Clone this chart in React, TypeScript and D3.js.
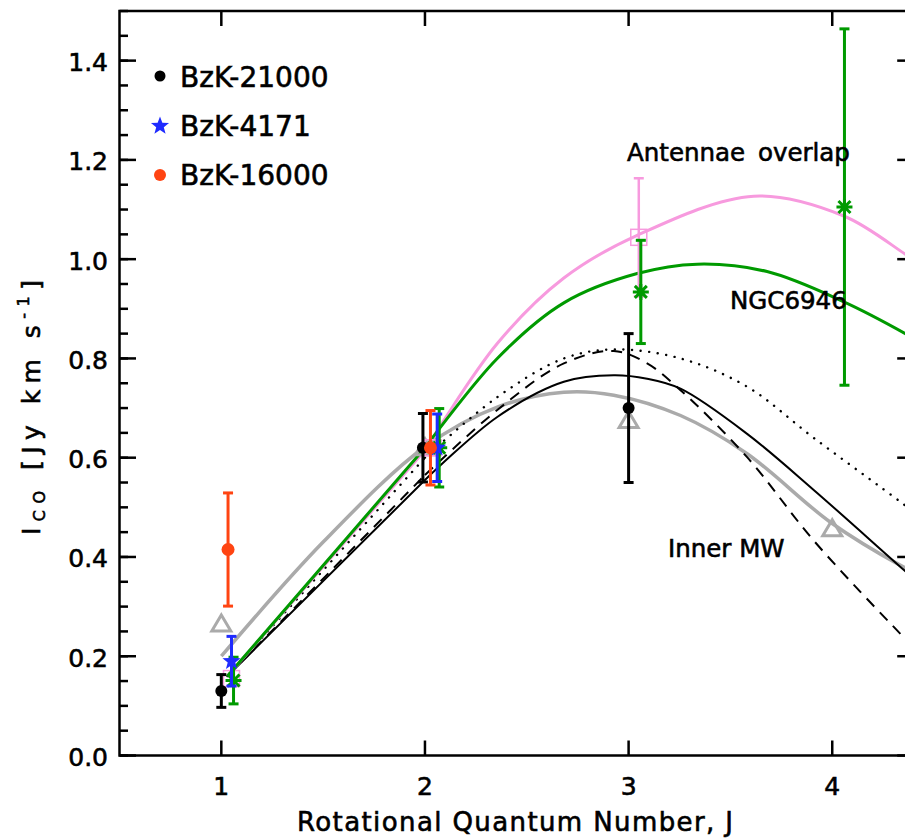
import React from 'react';
import * as d3 from 'd3';

// ---------- data ----------
const jTicks = [1, 2, 3, 4];
const yMajorTicks = [0, 0.2, 0.4, 0.6, 0.8, 1.0, 1.2, 1.4];
const yMinorTicks = d3.range(0, 1.5001, 0.05);

// observed points (J, I_CO, error)
const bzk21000J = [1.0, 1.99, 3.0];
const bzk21000I = [0.13, 0.62, 0.70];
const bzk21000E = [0.033, 0.069, 0.15];

const bzk4171J = [1.05, 2.06];
const bzk4171I = [0.19, 0.62];
const bzk4171E = [0.05, 0.068];

const bzk16000J = [1.033, 2.027];
const bzk16000I = [0.415, 0.62];
const bzk16000E = [0.114, 0.075];

const ngc6946J = [1.06, 2.07, 3.06, 4.06];
const ngc6946I = [0.151, 0.62, 0.934, 1.105];
const ngc6946E = [0.047, 0.079, 0.104, 0.359];

const antennaeJ = [1.05, 2.04, 3.05];
const antennaeI = [0.155, 0.62, 1.044];
const antennaeE = [0, 0, 0.119];

const innerMWJ = [1, 2, 3, 4];
const innerMWI = [0.265, 0.62, 0.675, 0.457];

// model curves
const pinkCurveJ = [1.03, 2.0, 2.355, 2.682, 3.042, 3.615, 4.057, 4.359, 4.4];
const pinkCurveI = [0.16, 0.615, 0.83, 0.962, 1.048, 1.127, 1.087, 1.01, 1.0];

const greenCurveJ = [1.03, 2.0, 2.355, 2.682, 3.042, 3.337, 3.68, 4.057, 4.359, 4.4];
const greenCurveI = [0.16, 0.62, 0.80, 0.912, 0.971, 0.99, 0.975, 0.914, 0.85, 0.84];

const dottedCurveJ = [1.03, 2.0, 2.355, 2.682, 2.927, 3.255, 3.582, 3.909, 4.335, 4.4];
const dottedCurveI = [0.16, 0.60, 0.722, 0.80, 0.818, 0.80, 0.743, 0.64, 0.511, 0.49];

const dashedCurveJ = [1.03, 2.0, 2.355, 2.682, 2.927, 3.091, 3.255, 3.582, 3.909, 4.335, 4.4];
const dashedCurveI = [0.16, 0.565, 0.696, 0.79, 0.815, 0.79, 0.736, 0.601, 0.433, 0.245, 0.218];

const solidCurveJ = [1.03, 2.0, 2.355, 2.682, 2.927, 3.091, 3.255, 3.582, 3.909, 4.335, 4.4];
const solidCurveI = [0.16, 0.555, 0.682, 0.753, 0.766, 0.759, 0.739, 0.648, 0.535, 0.38, 0.357];

const grayCurveJ = [1.0, 1.5, 2.0, 2.355, 2.682, 2.927, 3.255, 3.582, 3.991, 4.335, 4.4];
const grayCurveI = [0.2, 0.43, 0.622, 0.702, 0.732, 0.726, 0.685, 0.608, 0.47, 0.383, 0.37];

const legendNames = ['BzK-21000', 'BzK-4171', 'BzK-16000'];

// ---------- styles ----------
const C_BLACK = '#000000';
const C_BLUE = '#1f2bff';
const C_RED = '#ff4412';
const C_GREEN = '#009a00';
const C_PINK = '#f79ade';
const C_GRAY = '#aaaaaa';
const FONT = '"DejaVu Sans", sans-serif';

const x = d3.scaleLinear().domain([0.5, 4.4]).range([119.5, 913.7]);
const y = d3.scaleLinear().domain([0, 1.5]).range([755.5, 11]);

const smoothLine = d3
  .line<[number, number]>()
  .x((d) => x(d[0]))
  .y((d) => y(d[1]))
  .curve(d3.curveCatmullRom.alpha(0.5));

const straightLine = d3
  .line<[number, number]>()
  .x((d) => x(d[0]))
  .y((d) => y(d[1]));

const zip = (a: number[], b: number[]) => a.map((v, i) => [v, b[i]] as [number, number]);

// model curve: straight from the first sample up to J=2, smooth afterwards
function modelPath(js: number[], is: number[]) {
  const pts = zip(js, is);
  const left = pts.filter((p) => p[0] <= 2.0);
  const right = pts.filter((p) => p[0] >= 2.0);
  return (straightLine(left) || '') + (smoothLine(right) || '');
}

function starPath(R: number) {
  const r = R * 0.42;
  const pts: string[] = [];
  for (let i = 0; i < 10; i++) {
    const ang = -Math.PI / 2 + (i * Math.PI) / 5;
    const rr = i % 2 === 0 ? R : r;
    pts.push(`${(rr * Math.cos(ang)).toFixed(2)},${(rr * Math.sin(ang)).toFixed(2)}`);
  }
  return 'M' + pts.join('L') + 'Z';
}

function ErrBars({ js, is, es, color, width = 3 }: { js: number[]; is: number[]; es: number[]; color: string; width?: number }) {
  return (
    <g stroke={color} strokeWidth={width} fill="none">
      {js.map((j, k) =>
        es[k] > 0 ? (
          <g key={k}>
            <line x1={x(j)} x2={x(j)} y1={y(is[k] + es[k])} y2={y(is[k] - es[k])} />
            <line x1={x(j) - 5} x2={x(j) + 5} y1={y(is[k] + es[k])} y2={y(is[k] + es[k])} />
            <line x1={x(j) - 5} x2={x(j) + 5} y1={y(is[k] - es[k])} y2={y(is[k] - es[k])} />
          </g>
        ) : null
      )}
    </g>
  );
}

export default function App() {
  const star = starPath(9.5);
  const ast = 'M-8,0L8,0M0,-8L0,8M-6,-6L6,6M-6,6L6,-6';
  const tri = 'M0,-9L9.5,7L-9.5,7Z';
  const textStroke = { stroke: '#000', strokeWidth: 0.6 };
  return (
    <div style={{ position: 'absolute', left: 0, top: 0, width: 905, height: 839, overflow: 'hidden', background: '#fff' }}>
      <svg width={940} height={839} style={{ display: 'block' }} fontFamily={FONT}>
        <defs>
          <clipPath id="plotclip">
            <rect x={x(0.5)} y={y(1.5)} width={x(4.4) - x(0.5)} height={y(0) - y(1.5)} />
          </clipPath>
        </defs>

        {/* curves */}
        <g clipPath="url(#plotclip)" fill="none" strokeLinejoin="round">
          <path d={smoothLine(zip(grayCurveJ, grayCurveI)) || ''} stroke={C_GRAY} strokeWidth={3.5} />
          <path d={modelPath(solidCurveJ, solidCurveI)} stroke={C_BLACK} strokeWidth={2} />
          <path d={modelPath(dashedCurveJ, dashedCurveI)} stroke={C_BLACK} strokeWidth={2} strokeDasharray="11,8" />
          <path d={modelPath(dottedCurveJ, dottedCurveI)} stroke={C_BLACK} strokeWidth={2.4} strokeDasharray="0.1,8.5" strokeLinecap="round" />
          <path d={modelPath(pinkCurveJ, pinkCurveI)} stroke={C_PINK} strokeWidth={3} />
          <path d={modelPath(greenCurveJ, greenCurveI)} stroke={C_GREEN} strokeWidth={3} />
        </g>

        {/* Inner MW triangles */}
        <g fill="none" stroke={C_GRAY} strokeWidth={3}>
          {innerMWJ.map((j, k) => (
            <path key={k} d={tri} transform={`translate(${x(j)},${y(innerMWI[k])})`} />
          ))}
        </g>

        {/* Antennae */}
        <ErrBars js={antennaeJ} is={antennaeI} es={antennaeE} color={C_PINK} width={2.5} />
        <g fill="none" stroke={C_PINK} strokeWidth={1.5}>
          {antennaeJ.map((j, k) => (
            <rect key={k} x={x(j) - 8} y={y(antennaeI[k]) - 8} width={16} height={16} />
          ))}
        </g>

        {/* NGC6946 */}
        <ErrBars js={ngc6946J} is={ngc6946I} es={ngc6946E} color={C_GREEN} width={3} />
        <g fill="none" stroke={C_GREEN} strokeWidth={3}>
          {ngc6946J.map((j, k) => (
            <path key={k} d={ast} transform={`translate(${x(j)},${y(ngc6946I[k])})`} />
          ))}
        </g>

        {/* BzK-21000 */}
        <ErrBars js={bzk21000J} is={bzk21000I} es={bzk21000E} color={C_BLACK} width={3} />
        {bzk21000J.map((j, k) => (
          <circle key={k} cx={x(j)} cy={y(bzk21000I[k])} r={6} fill={C_BLACK} />
        ))}

        {/* BzK-4171 */}
        <ErrBars js={bzk4171J} is={bzk4171I} es={bzk4171E} color={C_BLUE} width={3} />
        {bzk4171J.map((j, k) => (
          <path key={k} d={star} transform={`translate(${x(j)},${y(bzk4171I[k])})`} fill={C_BLUE} />
        ))}

        {/* BzK-16000 */}
        <ErrBars js={bzk16000J} is={bzk16000I} es={bzk16000E} color={C_RED} width={3} />
        {bzk16000J.map((j, k) => (
          <circle key={k} cx={x(j)} cy={y(bzk16000I[k])} r={6.5} fill={C_RED} />
        ))}

        {/* axes frame */}
        <rect x={x(0.5)} y={y(1.5)} width={x(4.4) - x(0.5)} height={y(0) - y(1.5)} fill="none" stroke="#000" strokeWidth={2.5} />
        <g stroke="#000" strokeWidth={2.5}>
          {jTicks.map((j) => (
            <g key={j}>
              <line x1={x(j)} x2={x(j)} y1={y(0)} y2={y(0) - 15} />
              <line x1={x(j)} x2={x(j)} y1={y(1.5)} y2={y(1.5) + 15} />
            </g>
          ))}
          {yMinorTicks.map((v, k) => (
            <g key={k}>
              <line x1={x(0.5)} x2={x(0.5) + 8.5} y1={y(v)} y2={y(v)} />
              <line x1={x(4.4)} x2={x(4.4) - 8.5} y1={y(v)} y2={y(v)} />
            </g>
          ))}
          {yMajorTicks.map((v) => (
            <g key={v}>
              <line x1={x(0.5)} x2={x(0.5) + 16.5} y1={y(v)} y2={y(v)} />
              <line x1={x(4.4)} x2={x(4.4) - 16.5} y1={y(v)} y2={y(v)} />
            </g>
          ))}
        </g>

        {/* tick labels */}
        <g fontSize={25} fill="#000" {...textStroke}>
          {yMajorTicks.map((v) => (
            <text key={v} x={108} y={y(v) + 10.5} textAnchor="end">
              {v.toFixed(1)}
            </text>
          ))}
          {jTicks.map((j) => (
            <text key={j} x={x(j)} y={795} textAnchor="middle">
              {String(j)}
            </text>
          ))}
        </g>

        {/* axis titles */}
        <g fill="#000" {...textStroke}>
          <text x={515} y={831} fontSize={26} textAnchor="middle" textLength={436} lengthAdjust="spacing">
            Rotational Quantum Number, J
          </text>
          <text transform="translate(40,535) rotate(-90)" fontSize={25} textLength={255} lengthAdjust="spacing">
            I<tspan fontSize={16} dy={5}>CO</tspan>
            <tspan dy={-5}> [Jy km s</tspan>
            <tspan fontSize={16} dy={-11}>-1</tspan>
            <tspan dy={11}>]</tspan>
          </text>
        </g>

        {/* legend */}
        <circle cx={160} cy={76} r={5.5} fill={C_BLACK} />
        <path d={starPath(9.5)} transform="translate(160,126)" fill={C_BLUE} />
        <circle cx={160} cy={175} r={6} fill={C_RED} />
        <g fontSize={28} fill="#000" {...textStroke}>
          <text x={180} y={87}>{legendNames[0]}</text>
          <text x={180} y={136}>{legendNames[1]}</text>
          <text x={180} y={185}>{legendNames[2]}</text>
        </g>

        {/* annotations */}
        <g fontSize={24.5} fill="#000" {...textStroke}>
          <text x={627} y={161} wordSpacing={5}>Antennae overlap</text>
          <text x={730} y={309}>NGC6946</text>
          <text x={668} y={557}>Inner MW</text>
        </g>
      </svg>
    </div>
  );
}
